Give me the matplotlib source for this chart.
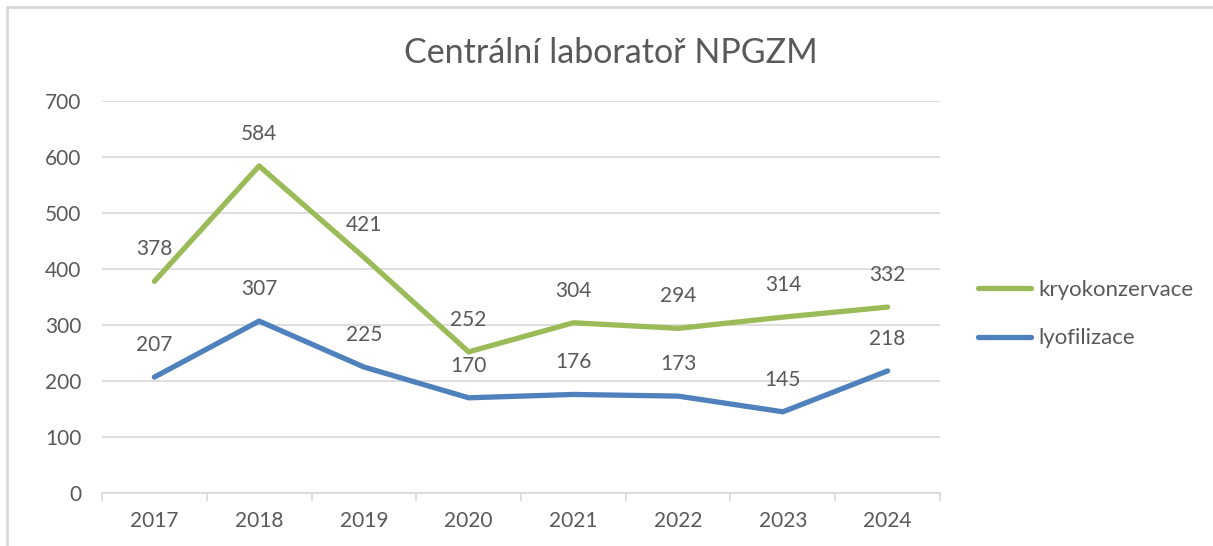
import matplotlib
matplotlib.use("Agg")
import matplotlib.pyplot as plt
from matplotlib.patches import Rectangle
from matplotlib.lines import Line2D

years = ["2017", "2018", "2019", "2020", "2021", "2022", "2023", "2024"]
kryokonzervace = [378, 584, 421, 252, 304, 294, 314, 332]
lyofilizace = [207, 307, 225, 170, 176, 173, 145, 218]
title = "Centrální laboratoř NPGZM"
yticks = [0, 100, 200, 300, 400, 500, 600, 700]

plt.rcParams['font.family'] = ['Lato', 'DejaVu Sans']
TXT = '#595959'
GREEN = '#9BBB59'
BLUE = '#4F81BD'
FS = 15

fig = plt.figure(figsize=(12.13, 5.46), dpi=100)
fig.patches.append(Rectangle((7/1213, -0.01), (1213-7)/1213 + 0.01, 1 - 7/546 + 0.01,
                             transform=fig.transFigure, fill=False,
                             edgecolor='#D9D9D9', linewidth=2))

ax = fig.add_axes([102/1213, 1 - 493/546, (940-102)/1213, (493-101)/546])
x = list(range(len(years)))
ax.plot(x, kryokonzervace, color=GREEN, lw=3.8, solid_capstyle='round', label='kryokonzervace')
ax.plot(x, lyofilizace, color=BLUE, lw=3.8, solid_capstyle='round', label='lyofilizace')

for xi, v in zip(x, kryokonzervace):
    ax.annotate(str(v), (xi, v), xytext=(0, 22), textcoords='offset pixels',
                ha='center', va='bottom', fontsize=FS, color=TXT)
for xi, v in zip(x, lyofilizace):
    ax.annotate(str(v), (xi, v), xytext=(0, 22), textcoords='offset pixels',
                ha='center', va='bottom', fontsize=FS, color=TXT)

ax.set_xlim(-0.5, len(years) - 0.5)
ax.set_ylim(0, 700)
ax.set_yticks(yticks)
ax.set_yticklabels([str(t) for t in yticks])
ax.set_xticks(x)
ax.set_xticklabels(years)
ax.set_xticks([i - 0.5 for i in range(len(years) + 1)], minor=True)
ax.grid(axis='y', color='#D9D9D9', lw=1.2)
ax.set_axisbelow(True)
for s in ['top', 'right', 'left']:
    ax.spines[s].set_visible(False)
ax.spines['bottom'].set_color('#D9D9D9')
ax.spines['bottom'].set_linewidth(1.2)
ax.tick_params(axis='y', length=0, pad=15, labelsize=FS, labelcolor=TXT)
ax.tick_params(axis='x', which='major', length=0, pad=13, labelsize=FS, labelcolor=TXT)
ax.tick_params(axis='x', which='minor', length=6, color='#D9D9D9', width=1.2)

fig.text(611/1213, 1 - 53/546, title, ha='center', va='center', fontsize=24.5, color=TXT)

handles = [Line2D([], [], color=GREEN, lw=3.8, solid_capstyle='round'),
           Line2D([], [], color=BLUE, lw=3.8, solid_capstyle='round')]
leg = fig.legend(handles, ['kryokonzervace', 'lyofilizace'], loc='center left',
                 bbox_to_anchor=(958/1213, 1 - 314/546), frameon=False,
                 fontsize=16, labelcolor=TXT, handlelength=2.4, handletextpad=0.3,
                 labelspacing=1.3)

fig.savefig('out.png', dpi=100)
